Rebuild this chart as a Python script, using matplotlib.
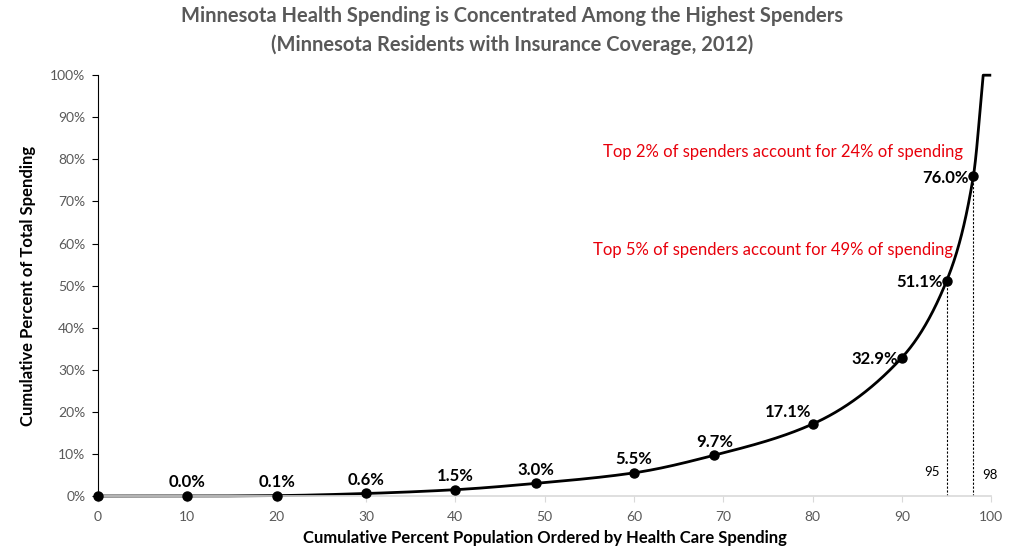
import numpy as np
import matplotlib
matplotlib.use("Agg")
import matplotlib.pyplot as plt
from matplotlib.ticker import PercentFormatter

plt.rcParams['font.family'] = ['Lato', 'DejaVu Sans']

# data
pop_pct = [0, 10, 20, 30, 40, 49, 60, 69, 80, 90, 95, 98]
spend_pct = [0, 0.0, 0.1, 0.6, 1.5, 3.0, 5.5, 9.7, 17.1, 32.9, 51.1, 76.0]
top_x = [99.1, 100]          # where the curve hits 100% and runs flat
top_y = [100, 100]
labels = ["", "0.0%", "0.1%", "0.6%", "1.5%", "3.0%", "5.5%", "9.7%",
          "17.1%", "32.9%", "51.1%", "76.0%"]
cutoffs = [95, 98]
cutoff_vals = [51.1, 76.0]
notes = ["Top 2% of spenders account for 24% of spending",
         "Top 5% of spenders account for 49% of spending"]


def pchip(xs, ys, n=60):
    """Shape preserving cubic through the points (Fritsch-Carlson)."""
    x = np.asarray(xs, float)
    y = np.asarray(ys, float)
    h = np.diff(x)
    d = np.diff(y) / h
    m = np.zeros_like(x)
    for i in range(1, len(x) - 1):
        if d[i - 1] * d[i] <= 0:
            m[i] = 0
        else:
            w1 = 2 * h[i] + h[i - 1]
            w2 = h[i] + 2 * h[i - 1]
            m[i] = (w1 + w2) / (w1 / d[i - 1] + w2 / d[i])
    m[0] = d[0]
    m[-1] = d[-1]
    px, py = [], []
    for i in range(len(h)):
        t = np.linspace(0, 1, n)
        h00 = 2 * t ** 3 - 3 * t ** 2 + 1
        h10 = t ** 3 - 2 * t ** 2 + t
        h01 = -2 * t ** 3 + 3 * t ** 2
        h11 = t ** 3 - t ** 2
        px.append(x[i] + t * h[i])
        py.append(h00 * y[i] + h10 * h[i] * m[i] + h01 * y[i + 1] + h11 * h[i] * m[i + 1])
    return np.concatenate(px), np.concatenate(py)


fig = plt.figure(figsize=(10.24, 5.57), dpi=100)
ax = fig.add_axes([0.0957, 0.1095, 0.8723, 0.7555])

cx, cy = pchip(pop_pct + top_x[:1], spend_pct + top_y[:1])
cx = np.append(cx, top_x[1:])
cy = np.append(cy, top_y[1:])
ax.plot(cx, cy, color='black', lw=2, solid_capstyle='butt', clip_on=False)
ax.plot(pop_pct, spend_pct, 'o', color='black', ms=6.5, clip_on=False, zorder=3)

for x, y, lab in zip(pop_pct, spend_pct, labels):
    if not lab:
        continue
    if x >= 90:
        ax.annotate(lab, (x, y), xytext=(-3, -1), textcoords='offset points',
                    ha='right', va='center', fontsize=12, fontweight='bold')
    elif x == 80:
        ax.annotate(lab, (x, y), xytext=(-1, 3), textcoords='offset points',
                    ha='right', va='bottom', fontsize=12, fontweight='bold')
    else:
        ax.annotate(lab, (x, y), xytext=(0, 4), textcoords='offset points',
                    ha='center', va='bottom', fontsize=12, fontweight='bold')

for x, y in zip(cutoffs, cutoff_vals):
    ax.plot([x, x], [0, y], color='black', lw=0.8, ls=(0, (2, 1.5)))
ax.text(93.4, 5.8, "95", ha='center', va='center', fontsize=9.5)
ax.text(99.9, 5.0, "98", ha='center', va='center', fontsize=9.5)

ax.text(76.7, 81.7, notes[0], color='#e8000b', ha='center', va='center', fontsize=12)
ax.text(75.6, 58.4, notes[1], color='#e8000b', ha='center', va='center', fontsize=12)

ax.set_xlim(0, 100)
ax.set_ylim(0, 100)
ax.set_xticks(range(0, 101, 10))
ax.set_yticks(range(0, 101, 10))
ax.yaxis.set_major_formatter(PercentFormatter(decimals=0))
ax.tick_params(axis='both', colors='#595959', labelsize=10, length=4, width=0.8)
ax.tick_params(axis='x', color='#d9d9d9', pad=7)
ax.tick_params(axis='y', color='black', pad=5)
ax.spines['top'].set_visible(False)
ax.spines['right'].set_visible(False)
ax.spines['left'].set_color('black')
ax.spines['bottom'].set_color('#d9d9d9')
ax.spines['bottom'].set_linewidth(1.2)

ax.set_xlabel("Cumulative Percent Population Ordered by Health Care Spending",
              fontsize=12, fontweight='bold', labelpad=5)
ax.set_ylabel("Cumulative Percent of Total Spending",
              fontsize=12, fontweight='bold', labelpad=10)

fig.suptitle("Minnesota Health Spending is Concentrated Among the Highest Spenders\n"
             "(Minnesota Residents with Insurance Coverage, 2012)",
             x=0.5, y=0.99, fontsize=14.5, fontweight='bold', color='#595959',
             linespacing=1.55)

fig.savefig("out.png", dpi=100)
